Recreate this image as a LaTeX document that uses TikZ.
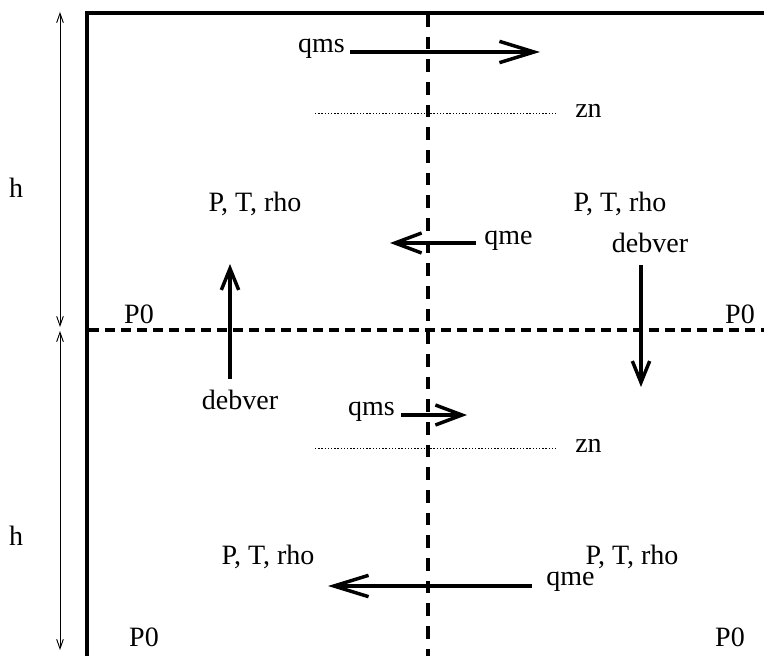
\documentclass[tikz,border=0pt]{standalone}
\usepackage{fontspec}
\setmainfont{Liberation Serif}
\usetikzlibrary{arrows.meta}
\begin{document}
\begin{tikzpicture}[x=0.75pt,y=-0.75pt,
  lbl/.style={inner sep=0pt,font=\fontsize{21}{24}\selectfont},
  wall/.style={line width=3pt},
  thickdash/.style={line width=2.6pt,dash pattern=on 7.5pt off 4.5pt},
  vdash/.style={line width=2.8pt,dash pattern=on 9.5pt off 7.5pt},
  zline/.style={line width=0.7pt,dash pattern=on 1pt off 1.4pt},
  dimarrow/.style={line width=0.7pt,{Straight Barb[length=7pt,width=5pt]}-{Straight Barb[length=7pt,width=5pt]}},
  bigarrow/.style={line width=2.6pt,-{Straight Barb[length=26pt,width=16pt,line width=2.6pt]}},
  midarrow/.style={line width=2.6pt,-{Straight Barb[length=20pt,width=15pt,line width=2.6pt]}},
  vertarrow/.style={line width=2.6pt,-{Straight Barb[length=16pt,width=13pt,line width=2.6pt]}}]
\useasboundingbox (0,0) rectangle (764,656);
% walls
\coordinate (wtop) at (87,657);
\coordinate (wcorner) at (87,13);
\coordinate (wright) at (764,13);
\draw[wall] (wtop) -- (wcorner) -- (wright);
% dimension arrows
\coordinate (d1a) at (60,12);
\coordinate (d1b) at (60,327);
\coordinate (d2a) at (60,331);
\coordinate (d2b) at (60,650);
\draw[dimarrow] (d1a) -- (d1b);
\draw[dimarrow] (d2a) -- (d2b);
\node[lbl] (h1) at (16,188) {h};
\node[lbl] (h2) at (16,536) {h};
% dashed mid lines
\coordinate (hl) at (89,330);
\coordinate (hr) at (764,330);
\draw[thickdash] (hl) -- (hr);
\coordinate (vt) at (428,14);
\coordinate (vb) at (428,656);
\draw[vdash] (vt) -- (vb);
% P0 labels
\node[lbl] (p0a) at (139,314) {P0};
\node[lbl] (p0b) at (740,314) {P0};
\node[lbl] (p0c) at (144,637) {P0};
\node[lbl] (p0d) at (730,637) {P0};
% top qms
\node[lbl,anchor=east] (qms1) at (345,49) {qms};
\coordinate (qms1s) at (350,52);
\coordinate (qms1e) at (540,52);
\draw[bigarrow] (qms1s) -- (qms1e);
% zn top
\coordinate (z1l) at (315,113);
\coordinate (z1r) at (556,113);
\draw[zline] (z1l) -- (z1r);
\node[lbl,anchor=west] (zn1) at (575,111) {zn};
% PT rho top
\node[lbl] (ptr1) at (255,204) {P, T, rho};
\node[lbl] (ptr2) at (620,204) {P, T, rho};
% qme top
\node[lbl,anchor=west] (qme1) at (484,241) {qme};
\coordinate (qme1s) at (476,243);
\coordinate (qme1e) at (390,243);
\draw[midarrow] (qme1s) -- (qme1e);
% debver right
\node[lbl] (deb1) at (650,243) {debver};
\coordinate (deb1s) at (641,265);
\coordinate (deb1e) at (641,387);
\draw[vertarrow] (deb1s) -- (deb1e);
% debver left
\node[lbl] (deb2) at (240,400) {debver};
\coordinate (deb2s) at (230,379);
\coordinate (deb2e) at (230,264);
\draw[vertarrow] (deb2s) -- (deb2e);
% qms bottom
\node[lbl,anchor=east] (qms2) at (395,412) {qms};
\coordinate (qms2s) at (401,415);
\coordinate (qms2e) at (467,415);
\draw[midarrow] (qms2s) -- (qms2e);
% zn bottom
\coordinate (z2l) at (315,448);
\coordinate (z2r) at (556,448);
\draw[zline] (z2l) -- (z2r);
\node[lbl,anchor=west] (zn2) at (575,446) {zn};
% PT rho bottom
\node[lbl] (ptr3) at (268,557) {P, T, rho};
\node[lbl] (ptr4) at (632,557) {P, T, rho};
% qme bottom
\node[lbl,anchor=west] (qme2) at (546,582) {qme};
\coordinate (qme2s) at (532,586);
\coordinate (qme2e) at (328,586);
\draw[bigarrow] (qme2s) -- (qme2e);
\end{tikzpicture}
\end{document}
